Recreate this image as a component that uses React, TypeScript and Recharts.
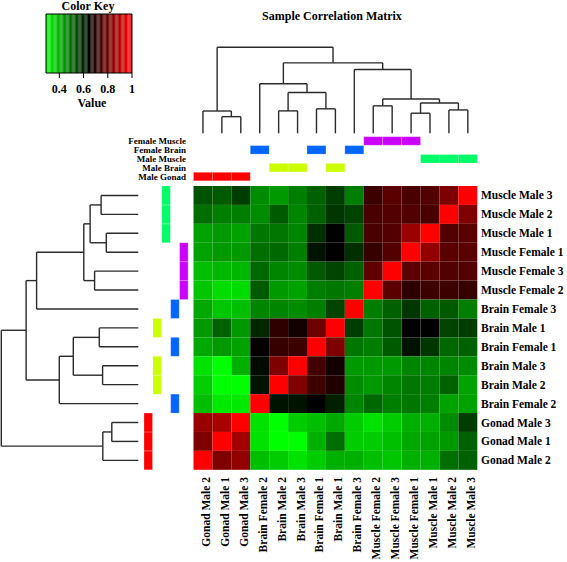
import { ComposedChart, XAxis, YAxis, Scatter, ReferenceArea, ReferenceLine } from 'recharts';

// samples in column order (left to right); rows show the same samples bottom to top
const samples = [
  'Gonad Male 2', 'Gonad Male 1', 'Gonad Male 3', 'Brain Female 2', 'Brain Male 2',
  'Brain Male 3', 'Brain Female 1', 'Brain Male 1', 'Brain Female 3', 'Muscle Female 2',
  'Muscle Female 3', 'Muscle Female 1', 'Muscle Male 1', 'Muscle Male 2', 'Muscle Male 3',
];

const groups = ['Male Gonad', 'Male Brain', 'Male Muscle', 'Female Brain', 'Female Muscle'];
const groupColors = ['#FF0000', '#CCFF00', '#00FF66', '#0066FF', '#CC00FF'];

// correlation values per displayed row (top to bottom), columns left to right
const rowMM3 = [0.53, 0.52, 0.56, 0.45, 0.43, 0.47, 0.51, 0.56, 0.47, 0.73, 0.77, 0.75, 0.76, 0.82, 1];
const rowMM2 = [0.49, 0.47, 0.47, 0.45, 0.52, 0.46, 0.51, 0.57, 0.55, 0.75, 0.76, 0.76, 0.75, 1, 0.82];
const rowMM1 = [0.42, 0.43, 0.42, 0.48, 0.48, 0.46, 0.58, 0.645, 0.52, 0.75, 0.76, 0.86, 1, 0.76, 0.77];
const rowMF1 = [0.42, 0.43, 0.43, 0.49, 0.5, 0.47, 0.62, 0.645, 0.58, 0.72, 0.76, 1, 0.85, 0.77, 0.77];
const rowMF3 = [0.38, 0.39, 0.39, 0.5, 0.46, 0.45, 0.52, 0.55, 0.51, 0.78, 1, 0.77, 0.77, 0.76, 0.76];
const rowMF2 = [0.37, 0.34, 0.34, 0.52, 0.43, 0.42, 0.47, 0.48, 0.47, 1, 0.77, 0.71, 0.73, 0.73, 0.72];
const rowBF3 = [0.41, 0.37, 0.38, 0.46, 0.46, 0.45, 0.47, 0.55, 1, 0.47, 0.51, 0.57, 0.51, 0.52, 0.47];
const rowBM1 = [0.43, 0.51, 0.43, 0.59, 0.71, 0.67, 0.8, 1, 0.56, 0.48, 0.53, 0.645, 0.645, 0.55, 0.56];
const rowBF1 = [0.41, 0.43, 0.42, 0.65, 0.72, 0.73, 1, 0.82, 0.48, 0.47, 0.52, 0.62, 0.57, 0.5, 0.51];
const rowBM3 = [0.33, 0.29, 0.4, 0.63, 0.82, 1, 0.74, 0.67, 0.43, 0.43, 0.43, 0.46, 0.46, 0.46, 0.45];
const rowBM2 = [0.36, 0.29, 0.29, 0.62, 1, 0.82, 0.73, 0.69, 0.45, 0.43, 0.46, 0.48, 0.47, 0.51, 0.42];
const rowBF2 = [0.38, 0.32, 0.32, 1, 0.62, 0.62, 0.645, 0.6, 0.46, 0.5, 0.47, 0.48, 0.47, 0.42, 0.42];
const rowGM3 = [0.86, 0.88, 1, 0.33, 0.29, 0.36, 0.38, 0.41, 0.36, 0.33, 0.36, 0.4, 0.4, 0.45, 0.56];
const rowGM1 = [0.82, 1, 0.87, 0.33, 0.29, 0.29, 0.4, 0.49, 0.36, 0.36, 0.38, 0.41, 0.42, 0.43, 0.51];
const rowGM2 = [1, 0.82, 0.85, 0.38, 0.36, 0.33, 0.36, 0.4, 0.4, 0.38, 0.37, 0.4, 0.4, 0.49, 0.51];

const corrRows = [rowMM3, rowMM2, rowMM1, rowMF1, rowMF3, rowMF2, rowBF3, rowBM1, rowBF1, rowBM3, rowBM2, rowBF2, rowGM3, rowGM1, rowGM2];

// hierarchical clustering merges on column indices: [left, right, height], 'mK' = K-th merge
const merges: [number | string, number | string, number][] = [
  [1, 2, 0.265],
  [0, 'm0', 0.355],
  [4, 5, 0.357],
  [6, 7, 0.39],
  ['m2', 'm3', 0.65],
  [3, 'm4', 0.79],
  [9, 10, 0.437],
  [11, 12, 0.32],
  [13, 14, 0.372],
  ['m7', 'm8', 0.482],
  ['m6', 'm9', 0.545],
  [8, 'm10', 1.017],
  ['m5', 'm11', 1.122],
  ['m1', 'm12', 1.37],
];

const keyTicks = [0.4, 0.6, 0.8, 1];
const KEY_MIN = 0.29;
const KEY_MID = 0.645;
const KEY_MAX = 1;

// layout (pixels) -> axis units, one unit = one heatmap cell
const W = 567;
const H = 562;
const X0 = 193.5;
const Y0 = 186;
const CELL = 18.92;
const ux = (px: number) => (px - X0) / CELL;
const uy = (py: number) => (py - Y0) / CELL;
const SERIF = '"Liberation Serif", "Times New Roman", serif';
const LINE = '#2b2b2b';

function heatColor(v: number) {
  if (v <= KEY_MID) {
    const g = Math.round((255 * Math.min(1, (KEY_MID - v) / (KEY_MID - KEY_MIN))));
    return `rgb(0,${g},0)`;
  }
  const r = Math.round((255 * Math.min(1, (v - KEY_MID) / (KEY_MAX - KEY_MID))));
  return `rgb(${r},0,0)`;
}

const groupOf = (name: string) => {
  const [tissue, sex] = name.split(' ');
  return groups.indexOf(`${sex} ${tissue}`);
};

function dendroSegments() {
  const pos: Record<string, number> = {};
  const hgt: Record<string, number> = {};
  samples.forEach((_, i) => {
    pos[String(i)] = i + 0.5;
    hgt[String(i)] = 0;
  });
  const segs: { p1: number; h1: number; p2: number; h2: number }[] = [];
  merges.forEach(([a, b, h], k) => {
    const ka = String(a);
    const kb = String(b);
    segs.push({ p1: pos[ka], h1: hgt[ka], p2: pos[ka], h2: h });
    segs.push({ p1: pos[kb], h1: hgt[kb], p2: pos[kb], h2: h });
    segs.push({ p1: pos[ka], h1: h, p2: pos[kb], h2: h });
    pos['m' + k] = (pos[ka] + pos[kb]) / 2;
    hgt['m' + k] = h;
  });
  return segs;
}

const segs = dendroSegments();
const TOP_BASE = 133.3;
const TOP_SCALE = 62.8;
const LEFT_BASE = 138.3;
const LEFT_SCALE = 100;

const BAND = 8.9;
const TOP_BAND0 = 172.3; // Male Gonad band top, others stacked above
const LEFT_BAND0 = 144; // Male Gonad band left, others to the right

const KEY_L = 46;
const KEY_R = 132;
const KEY_T = 14;
const KEY_B = 73;
const keyX = (v: number) => KEY_L + ((v - KEY_MIN) / (KEY_MAX - KEY_MIN)) * (KEY_R - KEY_L);
const KEY_STEPS = 72;

const rowLabelPts = corrRows.map((_, r) => ({ x: ux(481), y: r + 0.5, text: samples[14 - r] }));
const colLabelPts = samples.map((s, c) => ({ x: c + 0.5, y: uy(477), text: s }));
const groupLabelPts = groups.map((g, i) => ({ x: ux(186), y: uy(TOP_BAND0 - i * BAND + BAND / 2), text: g }));
const keyLabelPts = keyTicks.map((t) => ({ x: ux(keyX(t)), y: uy(93), text: String(t) }));
const titlePts = [
  { x: ux(332), y: uy(20), text: 'Sample Correlation Matrix' },
  { x: ux(88), y: uy(10), text: 'Color Key' },
  { x: ux(92), y: uy(107), text: 'Value' },
];

const RowLabel = (p: any) => (
  <text x={p.cx} y={p.cy} dy={4} fontSize={11.5} fontWeight="bold" fontFamily={SERIF} fill="#000">
    {p.payload.text}
  </text>
);

const ColLabel = (p: any) => (
  <text
    x={p.cx}
    y={p.cy}
    dy={7}
    transform={`rotate(-90 ${p.cx} ${p.cy})`}
    textAnchor="end"
    fontSize={11.5}
    fontWeight="bold"
    fontFamily={SERIF}
    fill="#000"
  >
    {p.payload.text}
  </text>
);

const GroupLabel = (p: any) => (
  <text x={p.cx} y={p.cy} dy={3} textAnchor="end" fontSize={9} fontWeight="bold" fontFamily={SERIF} fill="#000">
    {p.payload.text}
  </text>
);

const CenterLabel = (p: any) => (
  <text x={p.cx} y={p.cy} textAnchor="middle" fontSize={12} fontWeight="bold" fontFamily={SERIF} fill="#000">
    {p.payload.text}
  </text>
);

export default function App() {
  const cells: JSX.Element[] = [];
  corrRows.forEach((row, r) =>
    row.forEach((v, c) => {
      cells.push(
        <ReferenceArea
          key={`c${r}-${c}`}
          x1={c}
          x2={c + 1}
          y1={r}
          y2={r + 1}
          fill={heatColor(v)}
          fillOpacity={1}
          stroke="none"
        />
      );
    })
  );

  const keyStripes: JSX.Element[] = [];
  const step = (KEY_MAX - KEY_MIN) / KEY_STEPS;
  for (let i = 0; i < KEY_STEPS; i++) {
    const v0 = KEY_MIN + i * step;
    keyStripes.push(
      <ReferenceArea
        key={`k${i}`}
        x1={ux(keyX(v0))}
        x2={ux(keyX(v0 + step))}
        y1={uy(KEY_T)}
        y2={uy(KEY_B)}
        fill={heatColor(v0 + step / 2)}
        fillOpacity={1}
        stroke="none"
      />
    );
  }

  return (
    <div style={{ position: 'absolute', left: 0, top: 0, width: W, height: H, background: '#fff' }}>
      <ComposedChart width={W} height={H} margin={{ top: 0, right: 0, bottom: 0, left: 0 }}>
        <XAxis type="number" dataKey="x" domain={[ux(0), ux(W)]} allowDataOverflow hide />
        <YAxis type="number" dataKey="y" domain={[uy(0), uy(H)]} allowDataOverflow reversed hide />

        {cells}

        {/* side colour bars */}
        {samples.map((s, c) => {
          const g = groupOf(s);
          return (
            <ReferenceArea
              key={`tb${c}`}
              x1={c}
              x2={c + 1}
              y1={uy(TOP_BAND0 - g * BAND)}
              y2={uy(TOP_BAND0 - g * BAND + BAND - 0.4)}
              fill={groupColors[g]}
              fillOpacity={1}
              stroke="#ffffff"
              strokeOpacity={0.35}
              strokeWidth={0.6}
            />
          );
        })}
        {samples.map((s, c) => {
          const g = groupOf(s);
          const r = 14 - c;
          return (
            <ReferenceArea
              key={`lb${c}`}
              x1={ux(LEFT_BAND0 + g * BAND)}
              x2={ux(LEFT_BAND0 + g * BAND + BAND - 0.4)}
              y1={r}
              y2={r + 1}
              fill={groupColors[g]}
              fillOpacity={1}
              stroke="#ffffff"
              strokeOpacity={0.35}
              strokeWidth={0.6}
            />
          );
        })}

        {/* dendrograms */}
        {segs.map((s, i) => (
          <ReferenceLine
            key={`td${i}`}
            segment={[
              { x: s.p1, y: uy(TOP_BASE - s.h1 * TOP_SCALE) },
              { x: s.p2, y: uy(TOP_BASE - s.h2 * TOP_SCALE) },
            ]}
            stroke={LINE}
            strokeWidth={1.4}
          />
        ))}
        {segs.map((s, i) => (
          <ReferenceLine
            key={`ld${i}`}
            segment={[
              { x: ux(LEFT_BASE - s.h1 * LEFT_SCALE), y: 15 - s.p1 },
              { x: ux(LEFT_BASE - s.h2 * LEFT_SCALE), y: 15 - s.p2 },
            ]}
            stroke={LINE}
            strokeWidth={1.4}
          />
        ))}

        {/* colour key */}
        {keyStripes}
        <ReferenceArea
          x1={ux(KEY_L)}
          x2={ux(KEY_R)}
          y1={uy(KEY_T)}
          y2={uy(KEY_B)}
          fill="none"
          fillOpacity={0}
          stroke="#000"
          strokeWidth={1}
        />
        {keyTicks.map((t) => (
          <ReferenceLine
            key={`kt${t}`}
            segment={[
              { x: ux(keyX(t)), y: uy(KEY_B) },
              { x: ux(keyX(t)), y: uy(KEY_B + 5) },
            ]}
            stroke="#000"
            strokeWidth={1}
          />
        ))}

        <Scatter data={rowLabelPts} shape={RowLabel} isAnimationActive={false} />
        <Scatter data={colLabelPts} shape={ColLabel} isAnimationActive={false} />
        <Scatter data={groupLabelPts} shape={GroupLabel} isAnimationActive={false} />
        <Scatter data={keyLabelPts} shape={CenterLabel} isAnimationActive={false} />
        <Scatter data={titlePts} shape={CenterLabel} isAnimationActive={false} />
      </ComposedChart>
    </div>
  );
}
